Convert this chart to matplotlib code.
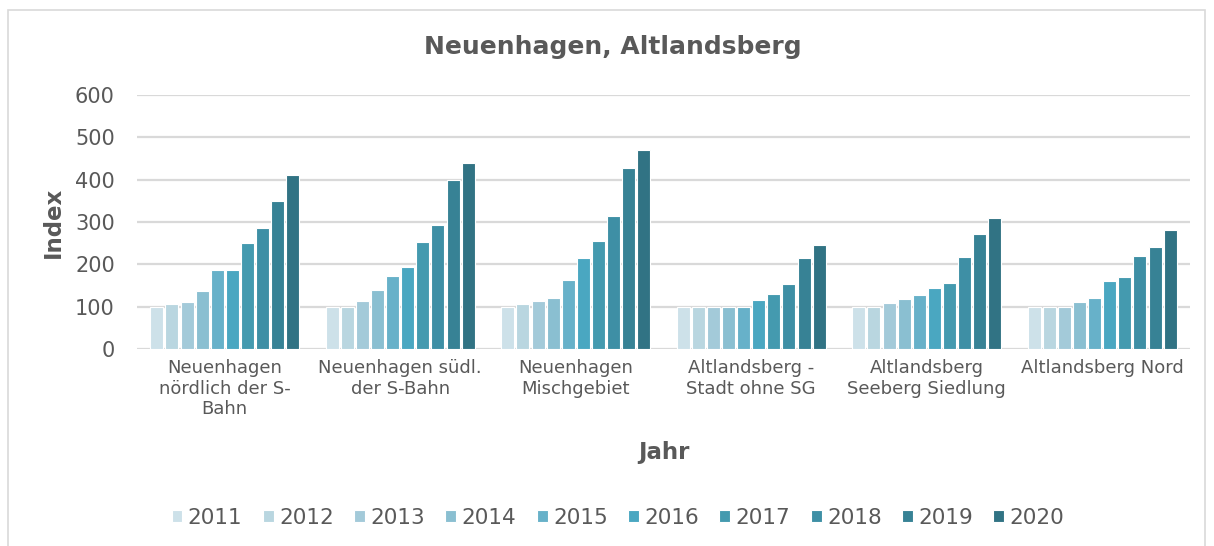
import matplotlib
matplotlib.use("Agg")
import matplotlib.pyplot as plt
from matplotlib.patches import Rectangle
import numpy as np

categories = ["Neuenhagen\nnördlich der S-\nBahn", "Neuenhagen südl.\nder S-Bahn",
              "Neuenhagen\nMischgebiet", "Altlandsberg -\nStadt ohne SG",
              "Altlandsberg\nSeeberg Siedlung", "Altlandsberg Nord"]
years = ["2011", "2012", "2013", "2014", "2015", "2016", "2017", "2018", "2019", "2020"]

v2011 = [100, 100, 100, 100, 100, 100]
v2012 = [107, 100, 107, 100, 100, 100]
v2013 = [112, 113, 113, 100, 108, 100]
v2014 = [137, 139, 121, 100, 118, 110]
v2015 = [187, 173, 164, 100, 127, 120]
v2016 = [187, 193, 214, 115, 145, 160]
v2017 = [250, 252, 256, 130, 155, 170]
v2018 = [287, 292, 313, 154, 217, 220]
v2019 = [349, 400, 427, 215, 272, 240]
v2020 = [412, 440, 470, 246, 309, 280]
series = [v2011, v2012, v2013, v2014, v2015, v2016, v2017, v2018, v2019, v2020]

colors = ["#cde1e9", "#b9d6e0", "#a3cad9", "#8abfd1", "#67b1c9",
          "#4aa7c1", "#449aaf", "#3e8fa5", "#378295", "#317384"]

text_color = "#595959"
grid_color = "#d9d9d9"

fig = plt.figure(figsize=(12.14, 5.46), dpi=100)
ax = fig.add_axes([137/1214, 1-349/546, (1190-137)/1214, (349-95)/546])

x = np.arange(len(categories))
step = 0.086
width = 0.074
n = len(series)
for i, (vals, c, yr) in enumerate(zip(series, colors, years)):
    off = (i - (n - 1) / 2) * step
    ax.bar(x + off, vals, width=width, color=c, edgecolor="white", linewidth=0.8,
           label=yr, zorder=3)

ax.set_xlim(-0.5, len(categories) - 0.5)
ax.set_ylim(0, 600)
ax.set_yticks([0, 100, 200, 300, 400, 500, 600])
ax.grid(axis="y", color=grid_color, linewidth=1.6, zorder=0)
ax.set_axisbelow(True)
for s in ax.spines.values():
    s.set_visible(False)
ax.tick_params(axis="y", length=0, pad=16, labelsize=15, labelcolor=text_color)
ax.tick_params(axis="x", length=0, pad=7, labelsize=13, labelcolor=text_color)
ax.set_xticks(x)
ax.set_xticklabels(categories, linespacing=1.2)

ax.set_ylabel("Index", fontsize=16.5, fontweight="bold", color=text_color, labelpad=7)
ax.set_xlabel("Jahr", fontsize=16.5, fontweight="bold", color=text_color, labelpad=16)

fig.text(613/1214, 1-47/546, "Neuenhagen, Altlandsberg", ha="center", va="center",
         fontsize=18, fontweight="bold", color=text_color)

leg = fig.legend(loc="center", bbox_to_anchor=(618/1214, 1-518/546), ncol=10,
                 frameon=False, fontsize=15.5, handlelength=0.5, handleheight=0.5,
                 handletextpad=0.25, columnspacing=0.95)
for t in leg.get_texts():
    t.set_color(text_color)

fig.patches.append(Rectangle((8/1214, -0.05), (1205-8)/1214, 1.05-10/546,
                             transform=fig.transFigure, fill=False,
                             edgecolor=grid_color, linewidth=1.2))

fig.savefig("out.png", dpi=100)
